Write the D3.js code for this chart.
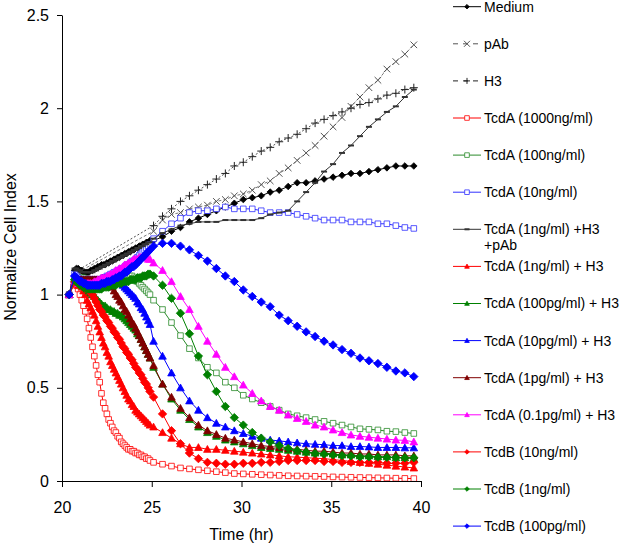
<!DOCTYPE html>
<html>
<head>
<meta charset="utf-8">
<script src="https://cdn.jsdelivr.net/npm/d3@7"></script>
<style>
  body { margin: 0; background: #fff; }
  svg { font-family: Arial, "Liberation Sans", sans-serif; }
</style>
</head>
<body>
<div id="container"></div>
<script>
// readings (hr): first point, dense early readings, then half-hourly readings
var earlyTimes = [20.4,
  20.7, 20.8, 20.9, 21.0, 21.1, 21.2, 21.3, 21.4, 21.5, 21.6,
  21.7, 21.8, 21.9, 22.0, 22.1, 22.2, 22.3, 22.4, 22.5, 22.6,
  22.7, 22.8, 22.9, 23.0, 23.1, 23.2, 23.3, 23.4, 23.5, 23.6,
  23.7, 23.8, 23.9, 24.0, 24.1, 24.2, 24.3, 24.4, 24.5, 24.6,
  24.7, 24.8, 24.9];
var lateTimes = [25.1, 25.6, 26.1, 26.6, 27.1, 27.6, 28.1, 28.6, 29.1, 29.6,
  30.1, 30.6, 31.1, 31.6, 32.1, 32.6, 33.1, 33.6, 34.1, 34.6,
  35.1, 35.6, 36.1, 36.6, 37.1, 37.6, 38.1, 38.6, 39.1, 39.6];

var xTicks = [20, 25, 30, 35, 40];
var yTicks = [0, 0.5, 1, 1.5, 2, 2.5];

var labels = ['Medium', 'pAb', 'H3', 'TcdA (1000ng/ml)', 'TcdA (100ng/ml)', 'TcdA (10ng/ml)',
  'TcdA (1ng/ml) +H3|+pAb', 'TcdA (1ng/ml) + H3', 'TcdA (100pg/ml) + H3', 'TcdA (10pg/ml) + H3',
  'TcdA (1pg/ml) + H3', 'TcdA (0.1pg/ml) + H3', 'TcdB (10ng/ml)', 'TcdB (1ng/ml)', 'TcdB (100pg/ml)'];

var mediumEarly = [1.00,
  1.13,1.14,1.14,1.13,1.13,1.12,1.12,1.12,1.12,1.13,
  1.13,1.14,1.14,1.15,1.15,1.16,1.16,1.16,1.17,1.17,
  1.18,1.18,1.19,1.19,1.20,1.20,1.21,1.21,1.22,1.22,
  1.23,1.23,1.24,1.24,1.25,1.25,1.26,1.26,1.27,1.27,
  1.28,1.28,1.29];
var mediumLate = [1.29,1.31,1.34,1.36,1.39,1.41,1.43,1.45,1.47,1.49,
  1.51,1.52,1.53,1.55,1.56,1.58,1.60,1.60,1.61,1.62,
  1.63,1.64,1.65,1.65,1.66,1.67,1.68,1.69,1.69,1.69];

var pAbEarly = [1.00, 1.11];
var pAbLate = [1.34,1.40,1.43,1.44,1.46,1.47,1.48,1.50,1.51,1.53,
  1.54,1.56,1.59,1.61,1.65,1.68,1.72,1.76,1.80,1.85,
  1.90,1.95,2.01,2.06,2.11,2.15,2.21,2.25,2.29,2.34];

var h3Early = [1.00, 1.12];
var h3Late = [1.37,1.42,1.46,1.50,1.53,1.56,1.59,1.62,1.65,1.69,
  1.71,1.74,1.77,1.79,1.82,1.84,1.86,1.89,1.92,1.94,
  1.96,1.98,2.00,2.02,2.03,2.05,2.07,2.08,2.10,2.11];

var a1000Early = [1.00,
  1.06,1.05,1.03,1.00,0.97,0.94,0.91,0.87,0.82,0.77,
  0.72,0.67,0.62,0.57,0.53,0.47,0.42,0.39,0.36,0.33,
  0.31,0.29,0.27,0.26,0.24,0.23,0.21,0.20,0.19,0.18,
  0.17,0.17,0.16,0.16,0.15,0.15,0.14,0.14,0.13,0.13,
  0.12,0.12,0.11];
var a1000Late = [0.10,0.09,0.08,0.07,0.065,0.06,0.055,0.05,0.045,0.04,
  0.038,0.036,0.034,0.032,0.03,0.028,0.027,0.026,0.025,0.024,
  0.022,0.021,0.02,0.019,0.018,0.017,0.016,0.015,0.014,0.013];

var a100Early = [1.00,
  1.08,1.08,1.09,1.09,1.09,1.09,1.08,1.08,1.08,1.08,
  1.08,1.08,1.08,1.08,1.08,1.08,1.09,1.09,1.09,1.09,
  1.09,1.10,1.10,1.10,1.10,1.10,1.11,1.11,1.11,1.10,
  1.10,1.10,1.10,1.09,1.08,1.07,1.06,1.05,1.04,1.03,
  1.02,1.01,1.00];
var a100Late = [0.97,0.92,0.85,0.78,0.71,0.66,0.61,0.58,0.53,0.50,
  0.46,0.44,0.42,0.40,0.38,0.36,0.35,0.34,0.33,0.32,
  0.31,0.30,0.29,0.28,0.277,0.274,0.267,0.265,0.26,0.255];

var a10Early = [1.00,
  1.11,1.10,1.09,1.08,1.08,1.07,1.07,1.07,1.07,1.07,
  1.07,1.07,1.07,1.08,1.08,1.08,1.09,1.09,1.10,1.10,
  1.11,1.11,1.12,1.12,1.13,1.13,1.14,1.14,1.15,1.16,
  1.16,1.17,1.18,1.18,1.19,1.20,1.21,1.22,1.23,1.24,
  1.25,1.26,1.27];
var a10Late = [1.30,1.34,1.38,1.41,1.44,1.45,1.45,1.46,1.47,1.46,
  1.46,1.46,1.45,1.44,1.44,1.44,1.43,1.42,1.41,1.40,
  1.40,1.40,1.39,1.39,1.39,1.38,1.38,1.37,1.36,1.355];

var a1H3pAbEarly = [1.00,
  1.14,1.14,1.13,1.13,1.12,1.12,1.12,1.12,1.12,1.12,
  1.12,1.13,1.13,1.14,1.14,1.15,1.15,1.16,1.16,1.17,
  1.17,1.18,1.18,1.19,1.19,1.20,1.20,1.21,1.21,1.22,
  1.22,1.23,1.23,1.24,1.24,1.25,1.25,1.26,1.26,1.27,
  1.27,1.28,1.28];
var a1H3pAbLate = [1.30,1.33,1.35,1.37,1.38,1.39,1.39,1.39,1.40,1.40,
  1.40,1.40,1.41,1.43,1.44,1.45,1.50,1.55,1.60,1.66,
  1.70,1.76,1.80,1.85,1.90,1.94,1.98,2.01,2.06,2.10];

var a1H3Early = [1.00,
  1.06,1.06,1.05,1.05,1.04,1.02,1.00,0.97,0.95,0.93,
  0.91,0.89,0.86,0.83,0.80,0.77,0.74,0.72,0.69,0.67,
  0.64,0.62,0.60,0.58,0.56,0.54,0.52,0.50,0.48,0.46,
  0.44,0.43,0.41,0.40,0.38,0.37,0.36,0.35,0.34,0.33,
  0.32,0.31,0.30];
var a1H3Late = [0.29,0.26,0.23,0.20,0.18,0.18,0.17,0.17,0.165,0.16,
  0.155,0.15,0.145,0.14,0.135,0.13,0.128,0.125,0.122,0.12,
  0.115,0.11,0.105,0.10,0.095,0.09,0.085,0.08,0.075,0.07];

var a100pgEarly = [1.00,
  1.07,1.07,1.07,1.07,1.06,1.05,1.04,1.03,1.02,1.01,
  1.00,0.99,0.98,0.97,0.96,0.95,0.94,0.94,0.93,0.92,
  0.92,0.91,0.91,0.90,0.90,0.89,0.89,0.88,0.87,0.86,
  0.85,0.84,0.83,0.82,0.81,0.79,0.78,0.76,0.74,0.72,
  0.70,0.68,0.66];
var a100pgLate = [0.61,0.52,0.44,0.38,0.33,0.29,0.26,0.24,0.22,0.21,
  0.20,0.19,0.18,0.175,0.17,0.165,0.16,0.155,0.15,0.15,
  0.145,0.14,0.14,0.135,0.135,0.13,0.13,0.125,0.125,0.12];

var a10pgEarly = [1.00,
  1.08,1.08,1.08,1.08,1.08,1.08,1.08,1.08,1.08,1.08,
  1.08,1.08,1.08,1.08,1.08,1.08,1.09,1.09,1.09,1.09,
  1.09,1.09,1.09,1.09,1.08,1.07,1.06,1.05,1.04,1.03,
  1.02,1.01,1.00,0.99,0.98,0.96,0.95,0.93,0.92,0.90,
  0.88,0.86,0.84];
var a10pgLate = [0.75,0.67,0.58,0.50,0.43,0.38,0.34,0.31,0.29,0.27,
  0.255,0.24,0.23,0.22,0.215,0.21,0.205,0.20,0.197,0.195,
  0.19,0.19,0.185,0.185,0.183,0.18,0.18,0.18,0.178,0.178];

var a1pgEarly = [1.00,
  1.07,1.08,1.08,1.08,1.08,1.08,1.08,1.08,1.08,1.08,
  1.08,1.08,1.08,1.08,1.08,1.08,1.08,1.07,1.07,1.06,
  1.05,1.04,1.02,1.00,0.99,0.97,0.96,0.94,0.92,0.91,
  0.89,0.87,0.85,0.84,0.82,0.80,0.78,0.76,0.74,0.72,
  0.70,0.68,0.66];
var a1pgLate = [0.62,0.52,0.45,0.39,0.34,0.30,0.27,0.25,0.23,0.22,
  0.21,0.20,0.19,0.185,0.18,0.175,0.17,0.165,0.16,0.16,
  0.155,0.15,0.15,0.145,0.145,0.14,0.14,0.14,0.135,0.135];

var a01pgEarly = [1.00,
  1.07,1.07,1.06,1.06,1.06,1.06,1.06,1.06,1.06,1.06,
  1.06,1.07,1.07,1.08,1.08,1.09,1.09,1.09,1.10,1.10,
  1.11,1.11,1.12,1.13,1.13,1.14,1.14,1.15,1.16,1.16,
  1.17,1.17,1.18,1.19,1.19,1.19,1.20,1.20,1.20,1.20,
  1.20,1.19,1.19];
var a01pgLate = [1.17,1.13,1.07,0.99,0.92,0.83,0.75,0.68,0.61,0.56,
  0.515,0.47,0.43,0.40,0.38,0.354,0.336,0.32,0.30,0.29,
  0.274,0.26,0.247,0.24,0.235,0.23,0.225,0.22,0.218,0.21];

var b10Early = [1.00,
  1.07,1.07,1.07,1.06,1.06,1.05,1.04,1.03,1.02,1.01,
  1.00,0.98,0.96,0.94,0.92,0.91,0.89,0.88,0.86,0.85,
  0.83,0.82,0.80,0.79,0.77,0.76,0.74,0.72,0.71,0.69,
  0.68,0.66,0.65,0.63,0.61,0.60,0.58,0.57,0.55,0.53,
  0.52,0.50,0.48];
var b10Late = [0.45,0.36,0.27,0.20,0.15,0.12,0.10,0.095,0.09,0.09,
  0.095,0.095,0.10,0.10,0.105,0.11,0.11,0.11,0.11,0.105,
  0.105,0.10,0.10,0.10,0.10,0.10,0.095,0.095,0.095,0.10];

var b1Early = [1.00,
  1.08,1.07,1.06,1.05,1.05,1.04,1.04,1.03,1.03,1.03,
  1.03,1.03,1.03,1.03,1.03,1.03,1.04,1.04,1.04,1.04,
  1.05,1.05,1.05,1.05,1.06,1.06,1.06,1.07,1.07,1.07,
  1.07,1.08,1.08,1.08,1.08,1.09,1.09,1.09,1.10,1.10,
  1.10,1.11,1.11];
var b1Late = [1.10,1.05,0.98,0.90,0.79,0.67,0.57,0.48,0.40,0.34,
  0.30,0.26,0.23,0.21,0.19,0.175,0.163,0.155,0.148,0.145,
  0.14,0.137,0.135,0.13,0.13,0.128,0.127,0.126,0.125,0.125];

var b100pgEarly = [1.00,
  1.10,1.09,1.08,1.07,1.07,1.06,1.06,1.05,1.05,1.05,
  1.05,1.05,1.05,1.05,1.05,1.06,1.06,1.06,1.07,1.07,
  1.07,1.08,1.08,1.09,1.09,1.10,1.10,1.11,1.12,1.12,
  1.13,1.14,1.15,1.15,1.16,1.17,1.18,1.19,1.20,1.21,
  1.22,1.23,1.24];
var b100pgLate = [1.26,1.275,1.275,1.26,1.24,1.21,1.18,1.14,1.10,1.07,
  1.025,0.99,0.96,0.935,0.89,0.86,0.83,0.80,0.775,0.75,
  0.73,0.705,0.685,0.66,0.645,0.63,0.61,0.59,0.58,0.56];

var seriesValues = [
  [mediumEarly, mediumLate], [pAbEarly, pAbLate], [h3Early, h3Late],
  [a1000Early, a1000Late], [a100Early, a100Late], [a10Early, a10Late],
  [a1H3pAbEarly, a1H3pAbLate], [a1H3Early, a1H3Late], [a100pgEarly, a100pgLate],
  [a10pgEarly, a10pgLate], [a1pgEarly, a1pgLate], [a01pgEarly, a01pgLate],
  [b10Early, b10Late], [b1Early, b1Late], [b100pgEarly, b100pgLate]
];

// look of each series, same order as labels
var looks = [
  {color: '#000', marker: 'diamond', r: 3.3, fill: '#000'},
  {color: '#555', marker: 'x', r: 3.3, dash: '3,2'},
  {color: '#222', marker: 'plus', r: 4, dash: '2,2'},
  {color: '#f00', marker: 'square', r: 2.8, fill: '#fff'},
  {color: '#2a8a2a', marker: 'square', r: 2.8, fill: '#fff'},
  {color: '#3030ff', marker: 'square', r: 2.8, fill: '#fff'},
  {color: '#333', marker: 'dash', r: 3},
  {color: '#f00', marker: 'triangle', r: 3.8, fill: '#f00'},
  {color: '#008000', marker: 'triangle', r: 3.8, fill: '#008000'},
  {color: '#0000ff', marker: 'triangle', r: 3.8, fill: '#0000ff'},
  {color: '#800000', marker: 'triangle', r: 3.8, fill: '#800000'},
  {color: '#ff00ff', marker: 'triangle', r: 3.8, fill: '#ff00ff'},
  {color: '#f00', marker: 'diamond', r: 4.2, fill: '#f00'},
  {color: '#008000', marker: 'diamond', r: 4.2, fill: '#008000'},
  {color: '#0000ff', marker: 'diamond', r: 4.2, fill: '#0000ff'}
];

function markerPath(type, r) {
  switch (type) {
    case 'diamond': return 'M0,' + (-r) + 'L' + r + ',0L0,' + r + 'L' + (-r) + ',0Z';
    case 'square': return 'M' + (-r) + ',' + (-r) + 'H' + r + 'V' + r + 'H' + (-r) + 'Z';
    case 'triangle': return 'M0,' + (-r) + 'L' + r + ',' + (r * 0.8) + 'L' + (-r) + ',' + (r * 0.8) + 'Z';
    case 'x': return 'M' + (-r) + ',' + (-r) + 'L' + r + ',' + r + 'M' + (-r) + ',' + r + 'L' + r + ',' + (-r);
    case 'plus': return 'M' + (-r) + ',0H' + r + 'M0,' + (-r) + 'V' + r;
    case 'dash': return 'M' + (-r) + ',0H' + r;
  }
}

function styleMarker(sel, look) {
  var open = look.marker === 'x' || look.marker === 'plus' || look.marker === 'dash';
  sel.attr('fill', open ? 'none' : look.fill)
    .attr('stroke', look.color)
    .attr('stroke-width', look.marker === 'dash' ? 2 : (open ? 1 : 0.8));
}

var width = 623, height = 544;
var svg = d3.select('#container').append('svg')
  .attr('width', width)
  .attr('height', height);

var x = d3.scaleLinear().domain([20, 40]).range([62, 421]);
var y = d3.scaleLinear().domain([0, 2.5]).range([481, 15]);

var line = d3.line()
  .x(function(d) { return x(d.t); })
  .y(function(d) { return y(d.v); });

var plot = svg.append('g');
seriesValues.forEach(function(pair, s) {
  var look = looks[s];
  var pts = pair[0].map(function(v, i) { return {t: earlyTimes[i], v: v}; })
    .concat(pair[1].map(function(v, i) { return {t: lateTimes[i], v: v}; }));
  var g = plot.append('g');
  g.append('path')
    .datum(pts)
    .attr('d', line)
    .attr('fill', 'none')
    .attr('stroke', look.color)
    .attr('stroke-width', look.dash ? 0.8 : 1)
    .attr('stroke-dasharray', look.dash || null);
  // dashed series show markers only on the half-hourly readings
  var marked = look.dash ? pts.slice(pair[0].length) : pts;
  g.selectAll('path.m')
    .data(marked)
    .enter()
    .append('path')
      .attr('class', 'm')
      .attr('transform', function(d) { return 'translate(' + x(d.t) + ',' + y(d.v) + ')'; })
      .attr('d', markerPath(look.marker, look.r))
      .call(styleMarker, look);
});

// axes
var yAxis = svg.append('g')
  .attr('transform', 'translate(62,0)')
  .call(d3.axisLeft(y).tickValues(yTicks).tickSize(5).tickSizeOuter(0).tickPadding(8)
    .tickFormat(function(d) { return d; }));
var xAxis = svg.append('g')
  .attr('transform', 'translate(0,481)')
  .call(d3.axisBottom(x).tickValues(xTicks).tickSize(6).tickSizeOuter(0).tickPadding(15));
[yAxis, xAxis].forEach(function(a) {
  a.attr('font-family', 'Arial, "Liberation Sans", sans-serif').attr('font-size', 16);
  a.selectAll('text').attr('fill', '#000');
  a.selectAll('line, path').attr('stroke', '#000');
});

svg.append('text')
  .attr('x', 241.5)
  .attr('y', 540)
  .attr('text-anchor', 'middle')
  .attr('font-size', 16)
  .text('Time (hr)');

svg.append('text')
  .attr('transform', 'translate(16,247) rotate(-90)')
  .attr('text-anchor', 'middle')
  .attr('font-size', 16)
  .text('Normalize Cell Index');

// legend
var legend = svg.append('g');
labels.forEach(function(label, i) {
  var look = looks[i];
  var cy = 6.7 + i * 37.1;
  var item = legend.append('g').attr('transform', 'translate(0,' + cy + ')');
  item.append('line')
    .attr('x1', 453).attr('x2', 481)
    .attr('stroke', look.color)
    .attr('stroke-width', 1)
    .attr('stroke-dasharray', look.dash ? '5,5' : null);
  var lr = look.marker === 'x' || look.marker === 'plus' ? 3 : (look.marker === 'dash' ? 2.5 : 2.3);
  item.append('path')
    .attr('transform', 'translate(467,0)')
    .attr('d', markerPath(look.marker, lr))
    .call(styleMarker, look);
  var txt = item.append('text')
    .attr('x', 484)
    .attr('font-size', 14)
    .attr('fill', '#000');
  label.split('|').forEach(function(part, j) {
    txt.append('tspan')
      .attr('x', 484)
      .attr('dy', j === 0 ? '0.35em' : 16)
      .text(part);
  });
});
</script>
</body>
</html>
